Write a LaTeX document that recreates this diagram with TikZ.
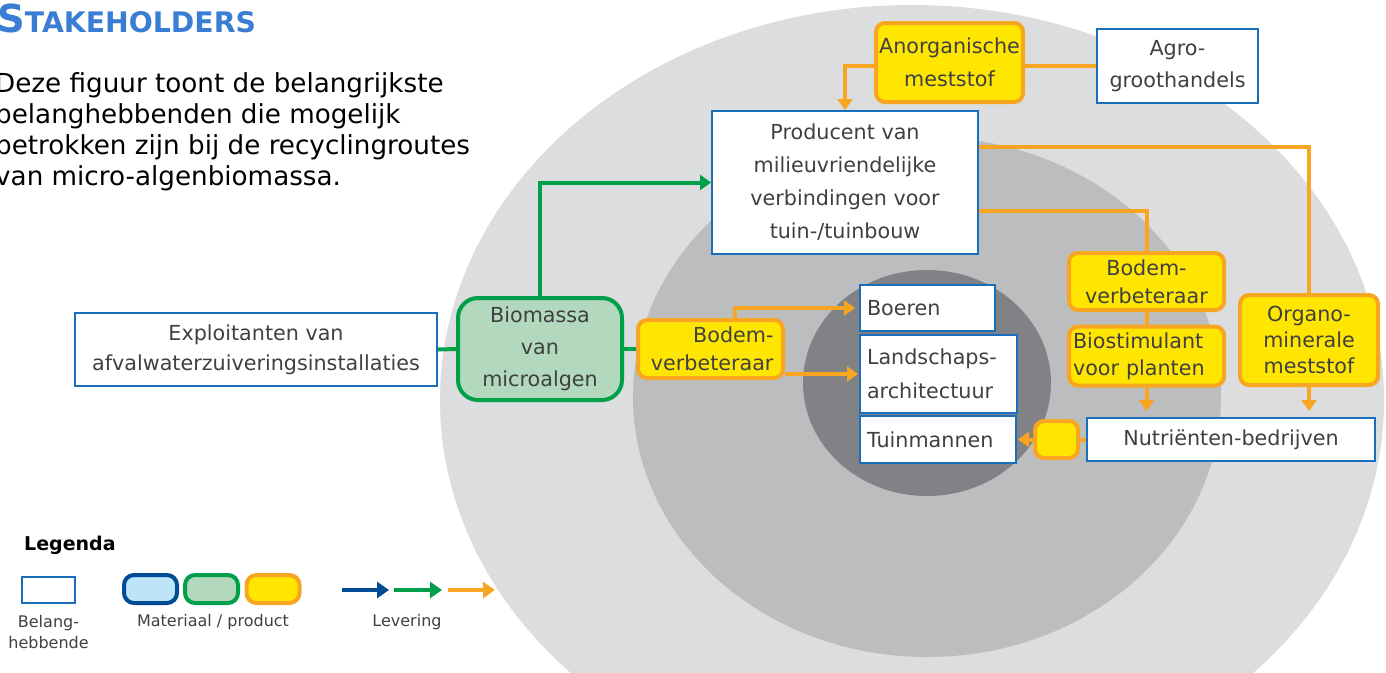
\documentclass[tikz,border=0pt]{standalone}
\usepackage{fontspec}
\setmainfont{DejaVu Sans}
\usetikzlibrary{arrows.meta}
\pgfdeclarelayer{bg}
\pgfdeclarelayer{edges}
\pgfsetlayers{bg,edges,main}
\definecolor{stkblue}{HTML}{1A6EBE}
\definecolor{dkblue}{HTML}{004B96}
\definecolor{ltblue}{HTML}{BEE4F8}
\definecolor{grn}{HTML}{00A04B}
\definecolor{ltgrn}{HTML}{B2D9BE}
\definecolor{orng}{HTML}{F8A621}
\definecolor{yel}{HTML}{FFE600}
\definecolor{txt}{HTML}{404040}
\definecolor{ttl}{HTML}{3A7DD5}
\definecolor{ellA}{HTML}{DCDDDE}
\definecolor{ellB}{HTML}{BCBDBF}
\definecolor{ellC}{HTML}{808285}
\newcommand\bxfont{\fontsize{20.7}{32}\selectfont}
\begin{document}
\begin{tikzpicture}[x=1pt,y=-1pt,
  stake/.style={draw=stkblue,line width=2pt,fill=white,text=txt,align=center,inner sep=0pt},
  matbox/.style={draw=orng,line width=4pt,fill=yel,rounded corners=9pt,text=txt,align=center,inner sep=0pt},
  biobox/.style={draw=grn,line width=4pt,fill=ltgrn,rounded corners=20pt,text=txt,align=center,inner sep=0pt},
  oline/.style={draw=orng,line width=4pt},
  gline/.style={draw=grn,line width=4pt},
  tip/.style={-{Triangle[width=15pt,length=11pt]}},
]
\clip (0,0) rectangle (1386,672);
% ellipses
\begin{pgfonlayer}{bg}
\fill[ellA] (912,400) ellipse [x radius=472, y radius=395];
\fill[ellB] (927,397) ellipse [x radius=294, y radius=260];
\fill[ellC] (927,383) ellipse [x radius=124, y radius=113];
\end{pgfonlayer}

% title and intro
\node[anchor=base west,inner sep=0pt,text=ttl,font=\bfseries] (title) at (-3,32)
  {{\fontsize{38.5}{38}\selectfont S}{\fontsize{28.3}{28}\selectfont TAKEHOLDERS}};
\node[anchor=base west,inner sep=0pt,align=left,text=black,font=\fontsize{26.2}{31}\selectfont] (intro) at (-5,185)
  {Deze figuur toont de belangrijkste\\belanghebbenden die mogelijk\\betrokken zijn bij de recyclingroutes\\van micro-algenbiomassa.};

% stakeholders
\node[stake,minimum width=362pt,minimum height=73pt,font=\fontsize{20.7}{30}\selectfont] (expl) at (256,349.5)
  {Exploitanten van\\afvalwaterzuiveringsinstallaties};
\node[stake,minimum width=266pt,minimum height=143pt,font=\fontsize{20.7}{33}\selectfont] (prod) at (845,182.5)
  {Producent van\\milieuvriendelijke\\verbindingen voor\\tuin-/tuinbouw};
\node[stake,minimum width=161pt,minimum height=74pt,font=\fontsize{20.7}{32}\selectfont] (agro) at (1177.5,66)
  {Agro-\\groothandels};
\node[stake,minimum height=46pt,text width=121pt,inner xsep=7pt,align=left,font=\bxfont] (boeren) at (927.5,308)
  {Boeren};
\node[stake,minimum height=78pt,text width=143pt,inner xsep=7pt,align=left,font=\fontsize{20.7}{34}\selectfont] (land) at (938.5,374)
  {Landschaps-\\architectuur};
\node[stake,minimum height=47pt,text width=142pt,inner xsep=7pt,align=left,font=\bxfont] (tuin) at (938,439.5)
  {Tuinmannen};
\node[stake,minimum width=288pt,minimum height=43pt,font=\bxfont] (nutr) at (1231,439.5)
  {Nutriënten-bedrijven};

% materials
\node[biobox,minimum width=164pt,minimum height=102pt,font=\fontsize{20.7}{32}\selectfont] (bio) at (540,349)
  {Biomassa\\van\\microalgen};
\node[matbox,minimum width=145pt,minimum height=58pt,text width=126pt,align=right,font=\fontsize{20.7}{28}\selectfont] (bodemL) at (710.5,349)
  {Bodem-\\verbeteraar};
\node[matbox,minimum width=147pt,minimum height=79pt,font=\fontsize{20.7}{33}\selectfont] (anorg) at (949.5,62.5)
  {Anorganische\\meststof};
\node[matbox,minimum width=155pt,minimum height=57pt,font=\fontsize{20.7}{28}\selectfont] (bodemR) at (1146.5,281.5)
  {Bodem-\\verbeteraar};
\node[matbox,minimum height=59pt,text width=147pt,inner xsep=4pt,align=left,font=\fontsize{20.7}{27}\selectfont] (bios) at (1146.5,356)
  {Biostimulant\\voor planten};
\node[matbox,minimum width=138pt,minimum height=90pt,font=\fontsize{20.7}{26}\selectfont] (organo) at (1309,340)
  {Organo-\\minerale\\meststof};
\node[matbox,minimum width=43pt,minimum height=37pt] (small) at (1056.5,439.5) {};

% connectors
\begin{pgfonlayer}{edges}
\draw[gline] (expl.east) -- (bio.west);
\draw[gline,tip] (bio.north) |- (prod.west);
\draw[gline] (bio.east) -- (bodemL.west);
\draw[oline,tip,shorten >=4pt] ([xshift=24.5pt]bodemL.north) |- (boeren.west);
\draw[oline,tip,shorten >=1pt] (bodemL.east |- land.west) -- (land.west);
\draw[oline] (anorg.east |- agro.west) -- (agro.west);
\draw[oline,tip] (anorg.west |- agro.west) -| (prod.north);
\draw[oline] ([yshift=35.5pt]prod.east) -| (organo.north);
\draw[oline] ([yshift=-28.5pt]prod.east) -| (bodemR.north);
\draw[oline] (bodemR.south) -- (bios.north);
\draw[oline,tip,shorten >=6pt] (bios.south) -- (bios.south |- nutr.north);
\draw[oline,tip,shorten >=6pt] (organo.south) -- (organo.south |- nutr.north);
\draw[oline] (nutr.west) -- (small.east);
\draw[oline,tip,shorten >=1pt] (small.west) -- (tuin.east);
\end{pgfonlayer}

% legend
\node[anchor=base west,inner sep=0pt,font=\bfseries\fontsize{19}{19}\selectfont] (leg) at (24,550) {Legenda};
\node[draw=stkblue,line width=2pt,fill=white,minimum width=53pt,minimum height=26pt,inner sep=0pt] (lgst) at (48.5,590) {};
\node[draw=dkblue,fill=ltblue,line width=4pt,rounded corners=10pt,minimum width=53pt,minimum height=28pt,inner sep=0pt] (lgb) at (150.5,589) {};
\node[draw=grn,fill=ltgrn,line width=4pt,rounded corners=10pt,minimum width=53pt,minimum height=28pt,inner sep=0pt] (lgg) at (211.5,589) {};
\node[draw=orng,fill=yel,line width=4pt,rounded corners=10pt,minimum width=53pt,minimum height=28pt,inner sep=0pt] (lgy) at (273,589) {};
\coordinate (a1) at (342,590); \coordinate (a2) at (389,590);
\coordinate (b1) at (394,590); \coordinate (b2) at (442,590);
\coordinate (c1) at (448,590); \coordinate (c2) at (495,590);
\draw[draw=dkblue,line width=4pt,-{Triangle[width=16pt,length=12pt]}] (a1) -- (a2);
\draw[draw=grn,line width=4pt,-{Triangle[width=16pt,length=12pt]}] (b1) -- (b2);
\draw[draw=orng,line width=4pt,-{Triangle[width=16pt,length=12pt]}] (c1) -- (c2);
\node[text=txt,align=center,inner sep=0pt,font=\fontsize{16}{21}\selectfont] (lgt1) at (48.5,632) {Belang-\\hebbende};
\node[text=txt,inner sep=0pt,font=\fontsize{16}{21}\selectfont] (lgt2) at (213,622) {Materiaal / product};
\node[text=txt,inner sep=0pt,font=\fontsize{16}{21}\selectfont] (lgt3) at (407,622) {Levering};
\end{tikzpicture}
\end{document}
